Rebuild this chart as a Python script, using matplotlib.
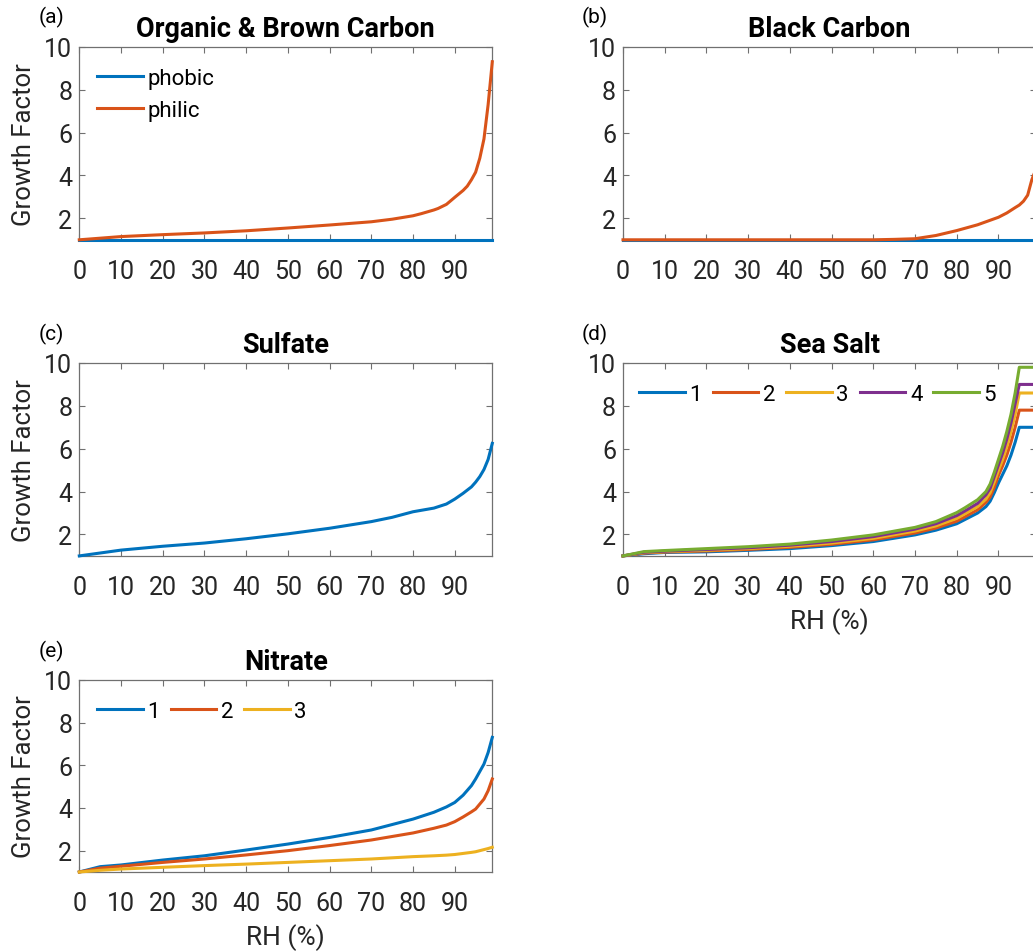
import numpy as np
import matplotlib
matplotlib.use("Agg")
import matplotlib.pyplot as plt

plt.rcParams['font.family'] = ['Roboto', 'DejaVu Sans']

# MATLAB default line colours
colors = ['#0072BD', '#D95319', '#EDB120', '#7E2F8E', '#77AC30']

# (a) organic & brown carbon
rh_oc = [0, 10, 20, 30, 40, 50, 60, 70, 75, 80, 82, 85, 86, 88, 90, 92, 93, 94, 95, 96, 97, 98, 99]
oc_phobic = [1.0] * len(rh_oc)
oc_philic = [1.0, 1.15, 1.24, 1.32, 1.42, 1.55, 1.69, 1.84, 1.96, 2.12, 2.22, 2.39, 2.46, 2.65, 2.98,
             3.3, 3.5, 3.8, 4.15, 4.8, 5.7, 7.3, 9.3]

# (b) black carbon
rh_bc = [0, 60, 65, 70, 75, 80, 85, 90, 92, 94, 95, 96, 97, 98, 99]
bc_phobic = [1.0] * len(rh_bc)
bc_philic = [1.0, 1.0, 1.02, 1.05, 1.2, 1.43, 1.7, 2.05, 2.25, 2.5, 2.62, 2.8, 3.08, 3.8, 4.3]

# (c) sulfate
rh_su = [0, 10, 20, 30, 40, 50, 60, 70, 75, 80, 85, 88, 90, 92, 94, 95, 96, 97, 98, 99]
sulfate = [1.0, 1.27, 1.45, 1.6, 1.8, 2.03, 2.29, 2.6, 2.8, 3.06, 3.23, 3.42, 3.65, 3.92, 4.22,
           4.44, 4.7, 5.03, 5.5, 6.25]

# (d) sea salt, 5 size bins
rh_ss = [0, 5, 10, 20, 30, 40, 50, 60, 70, 75, 80, 82, 85, 87, 88, 89, 90, 91, 92, 93, 94, 95, 99]
ss1 = [1.0, 1.10, 1.16, 1.19, 1.26, 1.34, 1.48, 1.67, 1.98, 2.20, 2.50, 2.70, 3.00, 3.30, 3.55,
       3.95, 4.40, 4.80, 5.20, 5.70, 6.30, 7.00, 7.00]
ss2 = [1.0, 1.13, 1.18, 1.23, 1.30, 1.40, 1.54, 1.75, 2.07, 2.30, 2.62, 2.83, 3.15, 3.50, 3.75,
       4.20, 4.75, 5.20, 5.70, 6.30, 7.00, 7.80, 7.80]
ss3 = [1.0, 1.15, 1.20, 1.26, 1.34, 1.45, 1.60, 1.82, 2.16, 2.40, 2.75, 2.97, 3.30, 3.65, 3.95,
       4.45, 5.00, 5.50, 6.10, 6.80, 7.60, 8.60, 8.60]
ss4 = [1.0, 1.17, 1.22, 1.30, 1.38, 1.50, 1.67, 1.90, 2.25, 2.50, 2.88, 3.10, 3.45, 3.85, 4.15,
       4.70, 5.25, 5.80, 6.45, 7.20, 8.10, 9.00, 9.00]
ss5 = [1.0, 1.20, 1.25, 1.34, 1.43, 1.55, 1.74, 1.98, 2.33, 2.60, 3.02, 3.25, 3.62, 4.00, 4.35,
       4.90, 5.50, 6.10, 6.80, 7.60, 8.60, 9.80, 9.80]

# (e) nitrate
rh_ni = [0, 5, 10, 20, 30, 40, 50, 60, 70, 80, 85, 88, 90, 92, 94, 95, 97, 98, 99]
ni1 = [1.0, 1.25, 1.33, 1.56, 1.76, 2.03, 2.31, 2.62, 2.97, 3.48, 3.8, 4.05, 4.26, 4.6, 5.05,
       5.36, 6.06, 6.6, 7.31]
ni2 = [1.0, 1.18, 1.27, 1.45, 1.61, 1.80, 2.0, 2.24, 2.50, 2.83, 3.05, 3.2, 3.36, 3.58, 3.82,
       3.95, 4.42, 4.81, 5.36]
ni3 = [1.0, 1.08, 1.14, 1.22, 1.30, 1.37, 1.45, 1.53, 1.61, 1.72, 1.76, 1.79, 1.82, 1.87, 1.92,
       1.95, 2.05, 2.1, 2.16]

W, H = 1033, 953
fig = plt.figure(figsize=(W / 100, H / 100), dpi=100)


def make_ax(left, top, right, bottom):
    return fig.add_axes([left / W, 1 - bottom / H, (right - left) / W, (bottom - top) / H])


def style(ax, title, tag, ylab=False, xlab=False):
    ax.set_xlim(0, 99)
    ax.set_ylim(1, 10)
    ax.set_xticks(range(0, 100, 10))
    ax.set_yticks([2, 4, 6, 8, 10])
    for s in ax.spines.values():
        s.set_color('#707070')
        s.set_linewidth(0.9)
        s.set_zorder(1)
    ax.tick_params(direction='in', top=True, right=True, length=4, width=0.8,
                   color='#707070', labelcolor='#262626', labelsize=18)
    ax.tick_params(axis='x', pad=13.5)
    ax.tick_params(axis='y', pad=5)
    ax.set_title(title, fontsize=19.5, fontweight='bold', pad=8)
    if ylab:
        ax.set_ylabel('Growth Factor', fontsize=18.5, color='#262626', labelpad=6)
    if xlab:
        ax.set_xlabel('RH (%)', fontsize=19, color='#262626', labelpad=6)
    pos = ax.get_position()
    fig.text(pos.x0 - 28 / W, pos.y1 + 30 / H, tag, fontsize=15, ha='center', va='center')


leg_kw = dict(frameon=False, fontsize=16, handlelength=2.05, handletextpad=0.2,
              borderaxespad=0, borderpad=0, loc='upper left')
line_kw = dict(lw=2.2, clip_on=False, zorder=3)

# (a)
ax = make_ax(79.3, 47.7, 492.3, 240.8)
ax.plot(rh_oc, oc_phobic, color=colors[0], label='phobic', **line_kw)
ax.plot(rh_oc, oc_philic, color=colors[1], label='philic', **line_kw)
ax.legend(bbox_to_anchor=(0.043, 0.89), labelspacing=0.48, **leg_kw)
style(ax, 'Organic & Brown Carbon', '(a)', ylab=True)

# (b)
ax = make_ax(623, 47.7, 1036, 240.8)
ax.plot(rh_bc, bc_phobic, color=colors[0], **line_kw)
ax.plot(rh_bc, bc_philic, color=colors[1], **line_kw)
style(ax, 'Black Carbon', '(b)')

# (c)
ax = make_ax(79.3, 364, 492.3, 556.9)
ax.plot(rh_su, sulfate, color=colors[0], **line_kw)
style(ax, 'Sulfate', '(c)', ylab=True)

# (d)
ax = make_ax(623, 364, 1036, 556.9)
for i, ss in enumerate([ss1, ss2, ss3, ss4, ss5]):
    ax.plot(rh_ss, ss, color=colors[i], label=str(i + 1), **line_kw)
ax.legend(bbox_to_anchor=(0.039, 0.89), ncol=5, columnspacing=0.5, **leg_kw)
style(ax, 'Sea Salt', '(d)', xlab=True)

# (e)
ax = make_ax(79.3, 681, 492.3, 873)
for i, ni in enumerate([ni1, ni2, ni3]):
    ax.plot(rh_ni, ni, color=colors[i], label=str(i + 1), **line_kw)
ax.legend(bbox_to_anchor=(0.043, 0.89), ncol=3, columnspacing=0.5, **leg_kw)
style(ax, 'Nitrate', '(e)', ylab=True, xlab=True)

fig.savefig('out.png', dpi=100)
